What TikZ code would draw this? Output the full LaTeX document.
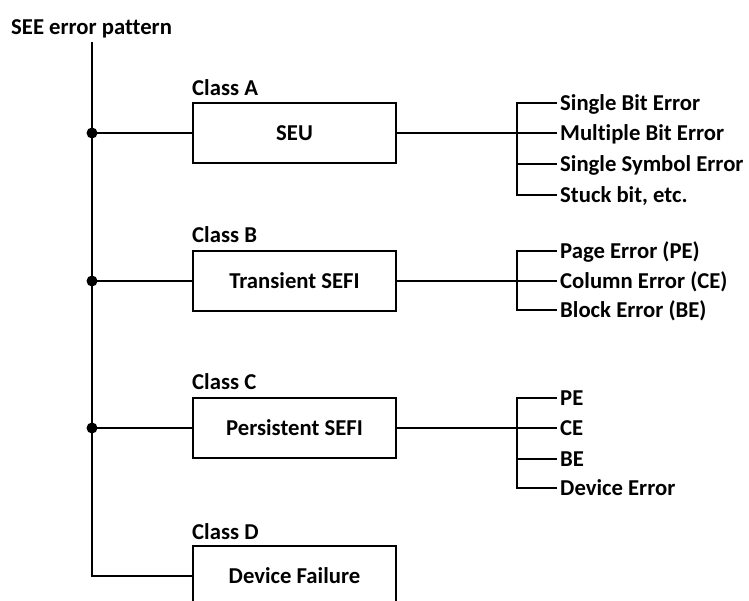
\documentclass[tikz,border=0pt]{standalone}
\usepackage{fontspec}
\setmainfont{Carlito}[Ligatures={NoCommon,NoContextual}]
\begin{document}
\begin{tikzpicture}[x=1pt,y=-1pt,
  every node/.style={font=\fontsize{22.7}{27}\selectfont\bfseries},
  ln/.style={line width=2.3pt},
  cls/.style={draw, line width=2.3pt, minimum width=203pt, minimum height=60pt,
    inner sep=0pt, text height=14.4pt, text depth=0pt},
  item/.style={anchor=west, inner sep=3pt, text height=14.4pt, text depth=0pt},
  lab/.style={anchor=base west, inner sep=0pt},
  dot/.style={fill=black}]
\clip (0,0) rectangle (749,601);
% title and trunk
\node[lab] (title) at (11,35) {SEE error pattern};
\coordinate (ttop) at (92,42);
\coordinate (jA) at (92,133);
\coordinate (jB) at (92,281);
\coordinate (jC) at (92,428);
\coordinate (jD) at (92,576);
% boxes
\node[cls] (A) at (294.5,133) {SEU};
\node[cls] (B) at (294.5,281) {Transient SEFI};
\node[cls] (C) at (294.5,428) {Persistent SEFI};
\node[cls] (D) at (294.5,576) {Device Failure};
% class labels
\node[lab] (cA) at (192,95.5) {Class A};
\node[lab] (cB) at (192,242.5) {Class B};
\node[lab] (cC) at (192,389.5) {Class C};
\node[lab] (cD) at (192,539) {Class D};
% trunk
\draw[ln] (ttop) -- (jD) -- (D.west);
\draw[ln] (jA) -- (A.west);
\draw[ln] (jB) -- (B.west);
\draw[ln] (jC) -- (C.west);
\fill[dot] (jA) circle (5.5);
\fill[dot] (jB) circle (5.5);
\fill[dot] (jC) circle (5.5);
% branch A
\coordinate (bA) at (517,133);
\node[item] (a1) at (557,103) {Single Bit Error};
\node[item] (a2) at (557,133) {Multiple Bit Error};
\node[item] (a3) at (557,164) {Single Symbol Error};
\node[item] (a4) at (557,195) {Stuck bit, etc.};
\draw[ln] (A.east) -- (bA);
\draw[ln] (a1.west) -| (bA);
\draw[ln] (a4.west) -| (bA);
\draw[ln] (bA) -- (a2.west);
\draw[ln] (a3.west -| bA) -- (a3.west);
% branch B
\coordinate (bB) at (517,281);
\node[item] (b1) at (557,251) {Page Error (PE)};
\node[item] (b2) at (557,281) {Column Error (CE)};
\node[item] (b3) at (557,310) {Block Error (BE)};
\draw[ln] (B.east) -- (bB);
\draw[ln] (b1.west) -| (bB);
\draw[ln] (b3.west) -| (bB);
\draw[ln] (bB) -- (b2.west);
% branch C
\coordinate (bC) at (517,428);
\node[item] (c1) at (557,398) {PE};
\node[item] (c2) at (557,428) {CE};
\node[item] (c3) at (557,459) {BE};
\node[item] (c4) at (557,488) {Device Error};
\draw[ln] (C.east) -- (bC);
\draw[ln] (c1.west) -| (bC);
\draw[ln] (c4.west) -| (bC);
\draw[ln] (bC) -- (c2.west);
\draw[ln] (c3.west -| bC) -- (c3.west);
\end{tikzpicture}
\end{document}
